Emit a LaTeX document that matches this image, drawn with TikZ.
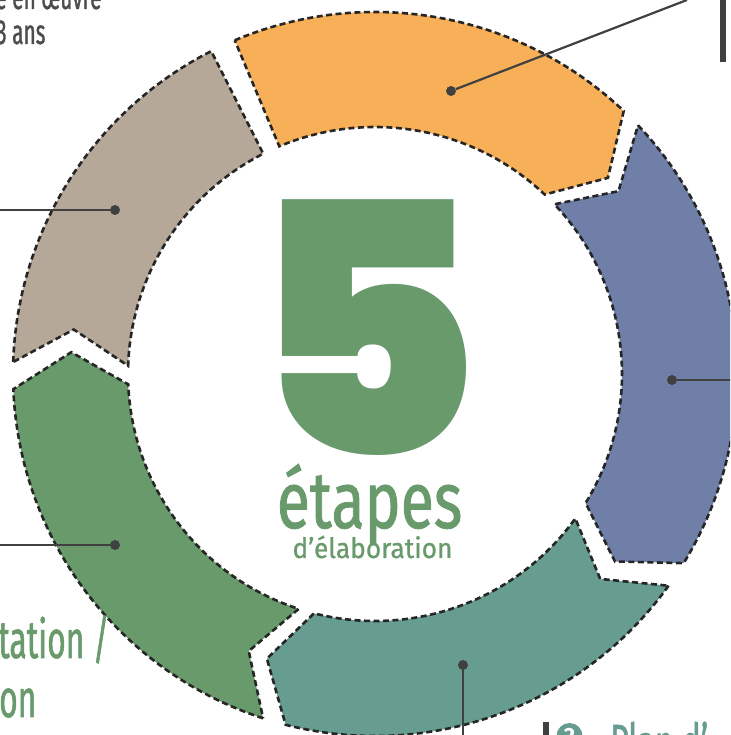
\documentclass[tikz,border=0pt]{standalone}
\usepackage{fontspec}
\setmainfont{Fira Sans}
\newfontfamily\fivefont{Poppins Black}
\newfontfamily\condfont{Fira Sans}[FakeStretch=0.76, FakeBold=1]
\newfontfamily\narrowfont{Fira Sans}[FakeStretch=0.6, FakeBold=1]
\newfontfamily\smallfont{Fira Sans}[FakeStretch=0.94, FakeBold=0.8]
\definecolor{orangepart}{HTML}{F7B057}
\definecolor{bluepart}{HTML}{6F7FA8}
\definecolor{tealpart}{HTML}{679D90}
\definecolor{greenpart}{HTML}{689A6B}
\definecolor{beigepart}{HTML}{B5A898}
\definecolor{linegray}{HTML}{404040}
\definecolor{textgray}{HTML}{4D4D4D}
\begin{document}
\begin{tikzpicture}[x=1pt,y=1pt,
    part/.style={draw=black!85, line width=2.6pt, dash pattern=on 6pt off 3.5pt},
    dot/.style={circle, fill=linegray, inner sep=0pt, minimum size=10pt},
    pointer/.style={draw=linegray, line width=2.2pt},
    label/.style={inner sep=0pt}]
    \clip (0,0) rectangle (730,735);

    % ring of the five steps
    \begin{scope}[shift={(375,361)}]
        \foreach \col/\s/\e/\n/\t in {orangepart/247.2/313.4/0/6.5, bluepart/316.6/391.5/6.5/6.5,
            tealpart/35.8/104.3/6.5/6.5, greenpart/108.0/177.6/6.5/6.5, beigepart/181.9/243.1/6.5/0}
            \path[part, fill=\col] (-\s:362) arc[start angle=-\s, end angle=-\e, radius=362]
                -- (-\e-\t:304.5) -- (-\e:247) arc[start angle=-\e, end angle=-\s, radius=247]
                -- (-\s-\n:304.5) -- cycle;
    \end{scope}

    \node[label, anchor=base, text=greenpart, font=\fivefont\fontsize{350}{350}\selectfont] (five) at (364.5,279) {5};
    \node[label, anchor=base, text=greenpart, font=\condfont\fontsize{80}{80}\selectfont] (etapes) at (369.5,207) {étapes};
    \node[label, anchor=base, text=greenpart, font=\smallfont\fontsize{28}{28}\selectfont] (elab) at (372.5,177) {d’élaboration};

    \node[dot] (orangedot) at (451,644) {};
    \node[dot] (beigedot) at (115,525) {};
    \node[dot] (bluedot) at (672,355) {};
    \node[dot] (greendot) at (115,190) {};
    \node[dot] (tealdot) at (463,70) {};
    \coordinate (orangeend) at (687,735);
    \coordinate (beigeend) at (-5,525);
    \coordinate (blueend) at (735,355);
    \coordinate (greenend) at (-5,190);
    \coordinate (tealend) at (463,-5);

    \path [pointer] (orangedot) -- (orangeend);
    \path [pointer] (beigedot) -- (beigeend);
    \path [pointer] (bluedot) -- (blueend);
    \path [pointer] (greendot) -- (greenend);
    \path [pointer] (tealdot) -- (tealend);

    % texts cut by the frame
    \node[label, anchor=base west, text=textgray, font=\narrowfont\fontsize{34.7}{34.7}\selectfont] (miseline) at (12,726) {\llap{e }en œuvre};
    \node[label, anchor=base west, text=textgray, font=\narrowfont\fontsize{34.7}{34.7}\selectfont] (ansline) at (12,691) {\llap{3 }ans};
    \node[label, anchor=base west, text=greenpart, font=\narrowfont\fontsize{53}{53}\selectfont] (tationline) at (-2,77) {tation /};
    \node[label, anchor=base west, text=greenpart, font=\narrowfont\fontsize{53}{53}\selectfont] (online) at (-1,18) {on};
    \node[label, anchor=base west, text=tealpart, font=\narrowfont\fontsize{53}{53}\selectfont] (planline) at (610,-26.5) {Plan d’};

    \fill[linegray] (720,673) rectangle (725.5,740);
    \fill[linegray] (543,-5) rectangle (548.5,13);
    \node[circle, fill=tealpart, minimum size=26pt, inner sep=0pt, text=white, font=\bfseries\fontsize{22}{22}\selectfont] (steptwo) at (569.5,-1) {2};
\end{tikzpicture}
\end{document}
